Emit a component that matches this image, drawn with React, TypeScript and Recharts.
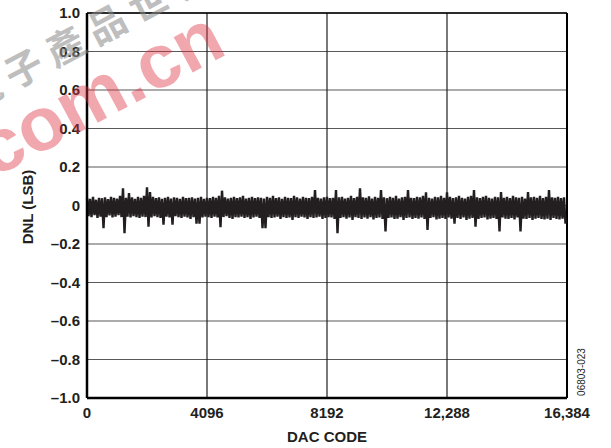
import {
  LineChart,
  Line,
  XAxis,
  YAxis,
  CartesianGrid,
  ReferenceLine,
} from "recharts";

// ── data (DNL in LSB; each bin = 102.4 codes) ──
const dnlHigh = [
  0.04, 0.035, 0.045, 0.03, 0.04, 0.038, 0.042, 0.033, 0.045, 0.04,
  0.036, 0.05, 0.089, 0.04, 0.065, 0.042, 0.035, 0.045, 0.04, 0.05,
  0.094, 0.07, 0.045, 0.038, 0.042, 0.035, 0.04, 0.045, 0.036, 0.042,
  0.04, 0.035, 0.045, 0.038, 0.04, 0.043, 0.036, 0.04, 0.045, 0.035,
  0.04, 0.038, 0.045, 0.04, 0.05, 0.077, 0.042, 0.036, 0.04, 0.045,
  0.038, 0.042, 0.05, 0.036, 0.04, 0.045, 0.038, 0.042, 0.04, 0.036,
  0.045, 0.04, 0.05, 0.038, 0.042, 0.035, 0.045, 0.04, 0.038, 0.05,
  0.042, 0.036, 0.045, 0.04, 0.038, 0.045, 0.08, 0.04, 0.036, 0.042,
  0.045, 0.038, 0.04, 0.08, 0.042, 0.045, 0.036, 0.04, 0.05, 0.038,
  0.045, 0.089, 0.042, 0.04, 0.048, 0.036, 0.045, 0.04, 0.08, 0.042,
  0.038, 0.045, 0.04, 0.05, 0.036, 0.042, 0.045, 0.08, 0.04, 0.038,
  0.045, 0.042, 0.05, 0.068, 0.04, 0.036, 0.045, 0.042, 0.05, 0.04,
  0.068, 0.045, 0.038, 0.042, 0.05, 0.04, 0.036, 0.045, 0.05, 0.08,
  0.042, 0.038, 0.045, 0.05, 0.04, 0.036, 0.045, 0.042, 0.07, 0.04,
  0.045, 0.038, 0.05, 0.042, 0.04, 0.045, 0.036, 0.07, 0.042, 0.045,
  0.04, 0.05, 0.038, 0.045, 0.08, 0.042, 0.04, 0.045, 0.038, 0.042,
];

const dnlLow = [
  -0.055, -0.06, -0.05, -0.065, -0.058, -0.118, -0.06, -0.052, -0.062, -0.058,
  -0.05, -0.06, -0.144, -0.058, -0.062, -0.055, -0.06, -0.065, -0.058, -0.06,
  -0.11, -0.062, -0.055, -0.06, -0.065, -0.1, -0.058, -0.062, -0.1, -0.055,
  -0.06, -0.065, -0.058, -0.062, -0.07, -0.06, -0.095, -0.095, -0.062, -0.058,
  -0.06, -0.065, -0.058, -0.062, -0.113, -0.06, -0.055, -0.065, -0.07, -0.06,
  -0.062, -0.058, -0.065, -0.06, -0.07, -0.062, -0.058, -0.065, -0.118, -0.118,
  -0.06, -0.065, -0.062, -0.058, -0.07, -0.06, -0.065, -0.062, -0.075, -0.06,
  -0.065, -0.058, -0.062, -0.07, -0.06, -0.065, -0.062, -0.058, -0.07, -0.065,
  -0.06, -0.062, -0.07, -0.144, -0.065, -0.06, -0.068, -0.062, -0.075, -0.06,
  -0.065, -0.07, -0.062, -0.068, -0.06, -0.072, -0.065, -0.062, -0.07, -0.135,
  -0.065, -0.062, -0.07, -0.068, -0.06, -0.075, -0.065, -0.062, -0.07, -0.065,
  -0.068, -0.062, -0.07, -0.127, -0.065, -0.06, -0.072, -0.068, -0.065, -0.07,
  -0.062, -0.068, -0.095, -0.065, -0.07, -0.062, -0.075, -0.068, -0.065, -0.11,
  -0.07, -0.065, -0.062, -0.072, -0.068, -0.065, -0.07, -0.135, -0.062, -0.068,
  -0.07, -0.065, -0.072, -0.062, -0.135, -0.068, -0.07, -0.065, -0.075, -0.068,
  -0.065, -0.07, -0.072, -0.068, -0.075, -0.065, -0.07, -0.072, -0.068, -0.095,
];

const binWidth = 102.4;

const xTicks = [0, 4096, 8192, 12288, 16384];
const xTickLabels = ["0", "4096", "8192", "12,288", "16,384"];

const yTicks = [-1, -0.8, -0.6, -0.4, -0.2, 0, 0.2, 0.4, 0.6, 0.8, 1];
const yTickLabels = ["–1.0", "–0.8", "–0.6", "–0.4", "–0.2", "0", "0.2", "0.4", "0.6", "0.8", "1.0"];

// interleave high/low per bin so the trace zig-zags like the measured DNL
const data = dnlHigh.flatMap((h, i) => [
  { code: i * binWidth, dnl: h },
  { code: i * binWidth + binWidth / 2, dnl: dnlLow[i] },
]);

const FONT = "'Liberation Sans', Arial, Helvetica, sans-serif";
const INK = "#231f20";

export default function App() {
  const tickStyle = { fill: INK, fontSize: 15, fontWeight: 700, fontFamily: FONT };

  return (
    <div style={{ position: "absolute", left: 0, top: 0, width: 611, height: 448, background: "#fff" }}>
      <LineChart
        width={611}
        height={448}
        data={data}
        margin={{ top: 13, right: 44, left: 0, bottom: 0 }}
      >
        <CartesianGrid vertical={false} stroke="#58595b" strokeWidth={1.2} />
        <CartesianGrid horizontal={false} stroke={INK} strokeWidth={1.2} />
        <XAxis
          dataKey="code"
          type="number"
          domain={[0, 16384]}
          ticks={xTicks}
          tickFormatter={(v: number) => xTickLabels[xTicks.indexOf(v)]}
          height={50}
          tickSize={0}
          tickMargin={9}
          tick={tickStyle}
          axisLine={{ stroke: "#000", strokeWidth: 2.5 }}
          interval={0}
        />
        <YAxis
          type="number"
          domain={[-1, 1]}
          ticks={yTicks}
          tickFormatter={(v: number) => yTickLabels[yTicks.findIndex((t) => Math.abs(t - v) < 1e-9)]}
          width={87}
          tickSize={0}
          tickMargin={7}
          tick={tickStyle}
          axisLine={{ stroke: "#000", strokeWidth: 2.5 }}
          interval={0}
        />
        <ReferenceLine y={1} stroke="#000" strokeWidth={1.5} />
        <ReferenceLine x={16384} stroke="#000" strokeWidth={2} />
        <Line
          type="linear"
          dataKey="dnl"
          stroke={INK}
          strokeWidth={2.4}
          strokeLinejoin="miter"
          dot={false}
          isAnimationActive={false}
        />
      </LineChart>

      <svg
        width={611}
        height={448}
        style={{ position: "absolute", left: 0, top: 0, pointerEvents: "none" }}
      >
        <text
          x={27}
          y={207}
          transform="rotate(-90 27 207)"
          textAnchor="middle"
          dominantBaseline="central"
          fontFamily={FONT}
          fontSize={15}
          fontWeight={700}
          fill={INK}
        >
          DNL (LSB)
        </text>
        <text x={327} y={442} textAnchor="middle" fontFamily={FONT} fontSize={15} fontWeight={700} fill={INK}>
          DAC CODE
        </text>
        <text
          x={581}
          y={372}
          transform="rotate(-90 581 372)"
          textAnchor="middle"
          dominantBaseline="central"
          fontFamily={FONT}
          fontSize={10}
          fill={INK}
        >
          06803-023
        </text>

        {/* site watermark */}
        <text
          x={-28}
          y={112}
          transform="rotate(-28 -28 112)"
          fontFamily="'Noto Sans CJK TC', sans-serif"
          fontSize={38}
          fontWeight={700}
          letterSpacing={9}
          fill="#8a8a8a"
          opacity={0.55}
        >
          電子產品世界
        </text>
        <text
          x={-6}
          y={178}
          transform="rotate(-28 -6 178)"
          fontFamily={FONT}
          fontSize={76}
          fontWeight={700}
          fill="#e0303f"
          opacity={0.42}
        >
          com.cn
        </text>
      </svg>
    </div>
  );
}
